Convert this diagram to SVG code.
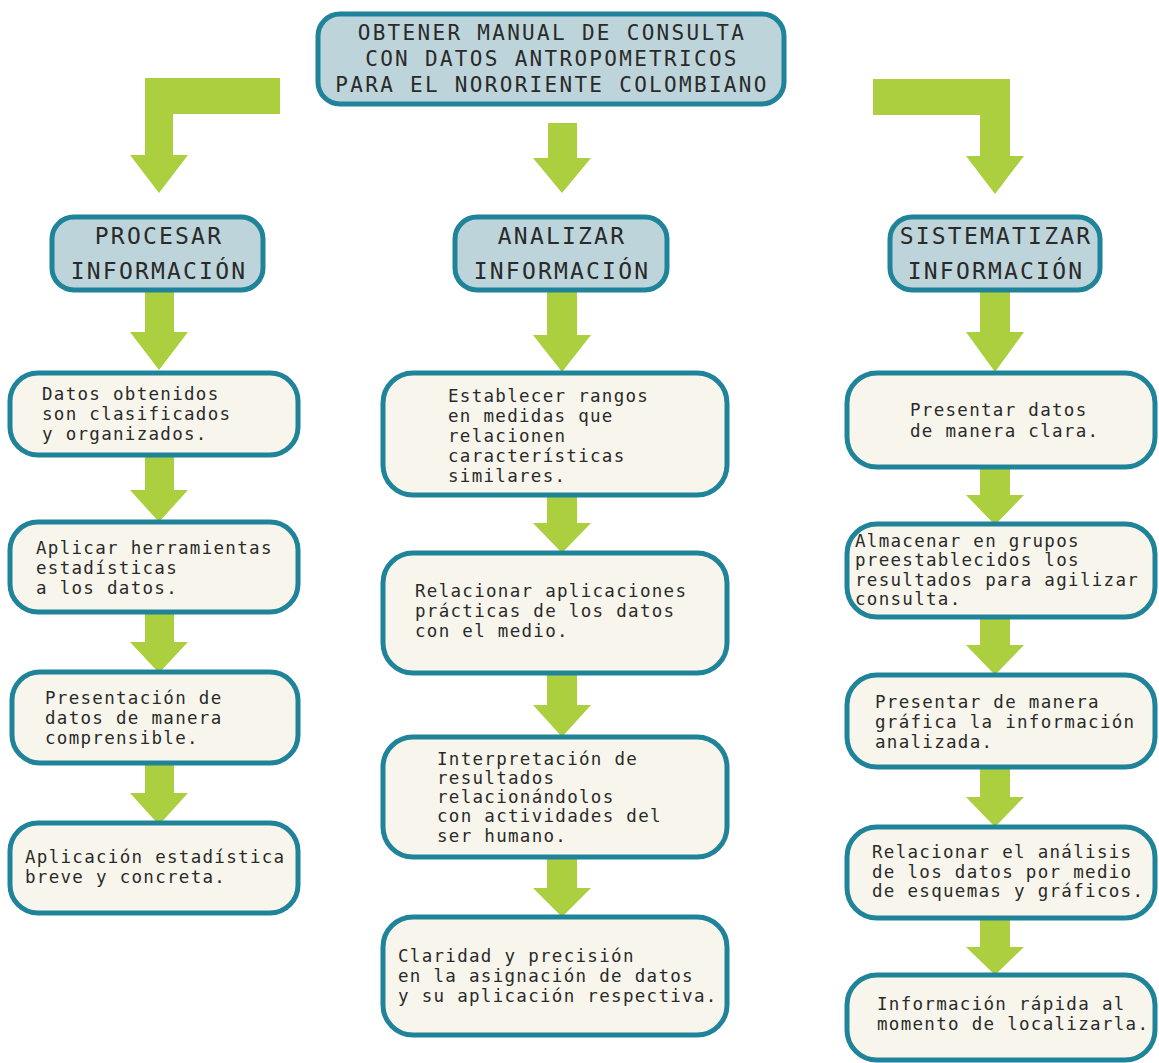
<svg xmlns="http://www.w3.org/2000/svg" width="1159" height="1063" viewBox="0 0 1159 1063">
<style>
.hd{fill:#bdd4da;stroke:#1f8499;stroke-width:5}
.bx{fill:#f8f6ec;stroke:#1f8499;stroke-width:5}
.ar{fill:#abcf3e}
.th{font-family:"DejaVu Sans Mono",monospace;font-size:23px;letter-spacing:2.2px;fill:#2a2a2a;text-anchor:middle}
.tt{font-family:"DejaVu Sans Mono",monospace;font-size:21px;letter-spacing:2.3px;fill:#2a2a2a;text-anchor:middle}
.tc{font-family:"DejaVu Sans Mono",monospace;font-size:17.5px;letter-spacing:1.3px;fill:#2a2a2a}
</style>
<rect width="1159" height="1063" fill="#ffffff"/>
<g id="connectors">
<path class="ar" d="M280,78 H145 V155 H130 L159,193 L188,155 H173 V114 H280 Z"/>
<path class="ar" d="M548,123 H577 V158 H591 L562,193 L533,158 H548 Z"/>
<path class="ar" d="M873,79 H1010 V156 H1024 L995,194 L966,156 H980 V115 H873 Z"/>
<path class="ar" d="M145,290 H174 V332 H188 L159,370 L130,332 H145 Z"/>
<path class="ar" d="M145,452 H174 V490 H188 L159,522 L130,490 H145 Z"/>
<path class="ar" d="M145,610 H174 V642 H188 L159,673 L130,642 H145 Z"/>
<path class="ar" d="M145,760 H174 V793 H188 L159,825 L130,793 H145 Z"/>
<path class="ar" d="M547,290 H577 V335 H591 L562,372 L533,335 H547 Z"/>
<path class="ar" d="M547,492 H577 V523 H591 L562,553 L533,523 H547 Z"/>
<path class="ar" d="M547,670 H577 V705 H591 L562,737 L533,705 H547 Z"/>
<path class="ar" d="M547,854 H577 V888 H591 L562,917 L533,888 H547 Z"/>
<path class="ar" d="M980,290 H1010 V332 H1024 L995,372 L966,332 H980 Z"/>
<path class="ar" d="M980,464 H1010 V495 H1024 L995,525 L966,495 H980 Z"/>
<path class="ar" d="M980,614 H1010 V645 H1024 L995,675 L966,645 H980 Z"/>
<path class="ar" d="M980,764 H1010 V797 H1024 L995,827 L966,797 H980 Z"/>
<path class="ar" d="M980,915 H1010 V947 H1024 L995,975 L966,947 H980 Z"/>
</g>
<g id="n-top">
<rect class="hd" x="318" y="14" width="466" height="90" rx="22"/>
<text class="tt" x="552" y="40">OBTENER MANUAL DE CONSULTA</text>
<text class="tt" x="552" y="66">CON DATOS ANTROPOMETRICOS</text>
<text class="tt" x="552" y="92">PARA EL NORORIENTE COLOMBIANO</text>
</g>
<g id="n-procesar">
<rect class="hd" x="52" y="217" width="211" height="73" rx="22"/>
<text class="th" x="159" y="244">PROCESAR</text>
<text class="th" x="159" y="279">INFORMACIÓN</text>
</g>
<g id="n-analizar">
<rect class="hd" x="455" y="217" width="212" height="73" rx="22"/>
<text class="th" x="562" y="244">ANALIZAR</text>
<text class="th" x="562" y="279">INFORMACIÓN</text>
</g>
<g id="n-sistematizar">
<rect class="hd" x="890" y="217" width="210" height="73" rx="22"/>
<text class="th" x="996" y="244">SISTEMATIZAR</text>
<text class="th" x="996" y="279">INFORMACIÓN</text>
</g>
<g id="n-l1">
<rect class="bx" x="10" y="373" width="288" height="82" rx="28"/>
<text class="tc" x="42" y="400">Datos obtenidos</text>
<text class="tc" x="42" y="420">son clasificados</text>
<text class="tc" x="42" y="440">y organizados.</text>
</g>
<g id="n-l2">
<rect class="bx" x="10" y="522" width="288" height="90" rx="28"/>
<text class="tc" x="36" y="554">Aplicar herramientas</text>
<text class="tc" x="36" y="574">estadísticas</text>
<text class="tc" x="36" y="594">a los datos.</text>
</g>
<g id="n-l3">
<rect class="bx" x="12" y="672" width="286" height="91" rx="28"/>
<text class="tc" x="45" y="704">Presentación de</text>
<text class="tc" x="45" y="724">datos de manera</text>
<text class="tc" x="45" y="744">comprensible.</text>
</g>
<g id="n-l4">
<rect class="bx" x="10" y="823" width="288" height="90" rx="28"/>
<text class="tc" x="25" y="863">Aplicación estadística</text>
<text class="tc" x="25" y="883">breve y concreta.</text>
</g>
<g id="n-m1">
<rect class="bx" x="383" y="373" width="344" height="122" rx="30"/>
<text class="tc" x="448" y="402">Establecer rangos</text>
<text class="tc" x="448" y="422">en medidas que</text>
<text class="tc" x="448" y="442">relacionen</text>
<text class="tc" x="448" y="462">características</text>
<text class="tc" x="448" y="482">similares.</text>
</g>
<g id="n-m2">
<rect class="bx" x="383" y="553" width="344" height="120" rx="30"/>
<text class="tc" x="415" y="597">Relacionar aplicaciones</text>
<text class="tc" x="415" y="617">prácticas de los datos</text>
<text class="tc" x="415" y="637">con el medio.</text>
</g>
<g id="n-m3">
<rect class="bx" x="383" y="737" width="344" height="120" rx="30"/>
<text class="tc" x="437" y="765">Interpretación de</text>
<text class="tc" x="437" y="784">resultados</text>
<text class="tc" x="437" y="803">relacionándolos</text>
<text class="tc" x="437" y="822">con actividades del</text>
<text class="tc" x="437" y="842">ser humano.</text>
</g>
<g id="n-m4">
<rect class="bx" x="383" y="917" width="344" height="118" rx="30"/>
<text class="tc" x="398" y="962">Claridad y precisión</text>
<text class="tc" x="398" y="982">en la asignación de datos</text>
<text class="tc" x="398" y="1002">y su aplicación respectiva.</text>
</g>
<g id="n-r1">
<rect class="bx" x="847" y="373" width="308" height="94" rx="30"/>
<text class="tc" x="910" y="416">Presentar datos</text>
<text class="tc" x="910" y="437">de manera clara.</text>
</g>
<g id="n-r2">
<rect class="bx" x="847" y="524" width="308" height="93" rx="30"/>
<text class="tc" x="855" y="547">Almacenar en grupos</text>
<text class="tc" x="855" y="566">preestablecidos los</text>
<text class="tc" x="855" y="586">resultados para agilizar</text>
<text class="tc" x="855" y="605">consulta.</text>
</g>
<g id="n-r3">
<rect class="bx" x="847" y="675" width="308" height="92" rx="30"/>
<text class="tc" x="875" y="708">Presentar de manera</text>
<text class="tc" x="875" y="728">gráfica la información</text>
<text class="tc" x="875" y="748">analizada.</text>
</g>
<g id="n-r4">
<rect class="bx" x="847" y="827" width="308" height="91" rx="30"/>
<text class="tc" x="872" y="858">Relacionar el análisis</text>
<text class="tc" x="872" y="878">de los datos por medio</text>
<text class="tc" x="872" y="897">de esquemas y gráficos.</text>
</g>
<g id="n-r5">
<rect class="bx" x="847" y="975" width="308" height="85" rx="30"/>
<text class="tc" x="877" y="1010">Información rápida al</text>
<text class="tc" x="877" y="1030">momento de localizarla.</text>
</g>
</svg>
